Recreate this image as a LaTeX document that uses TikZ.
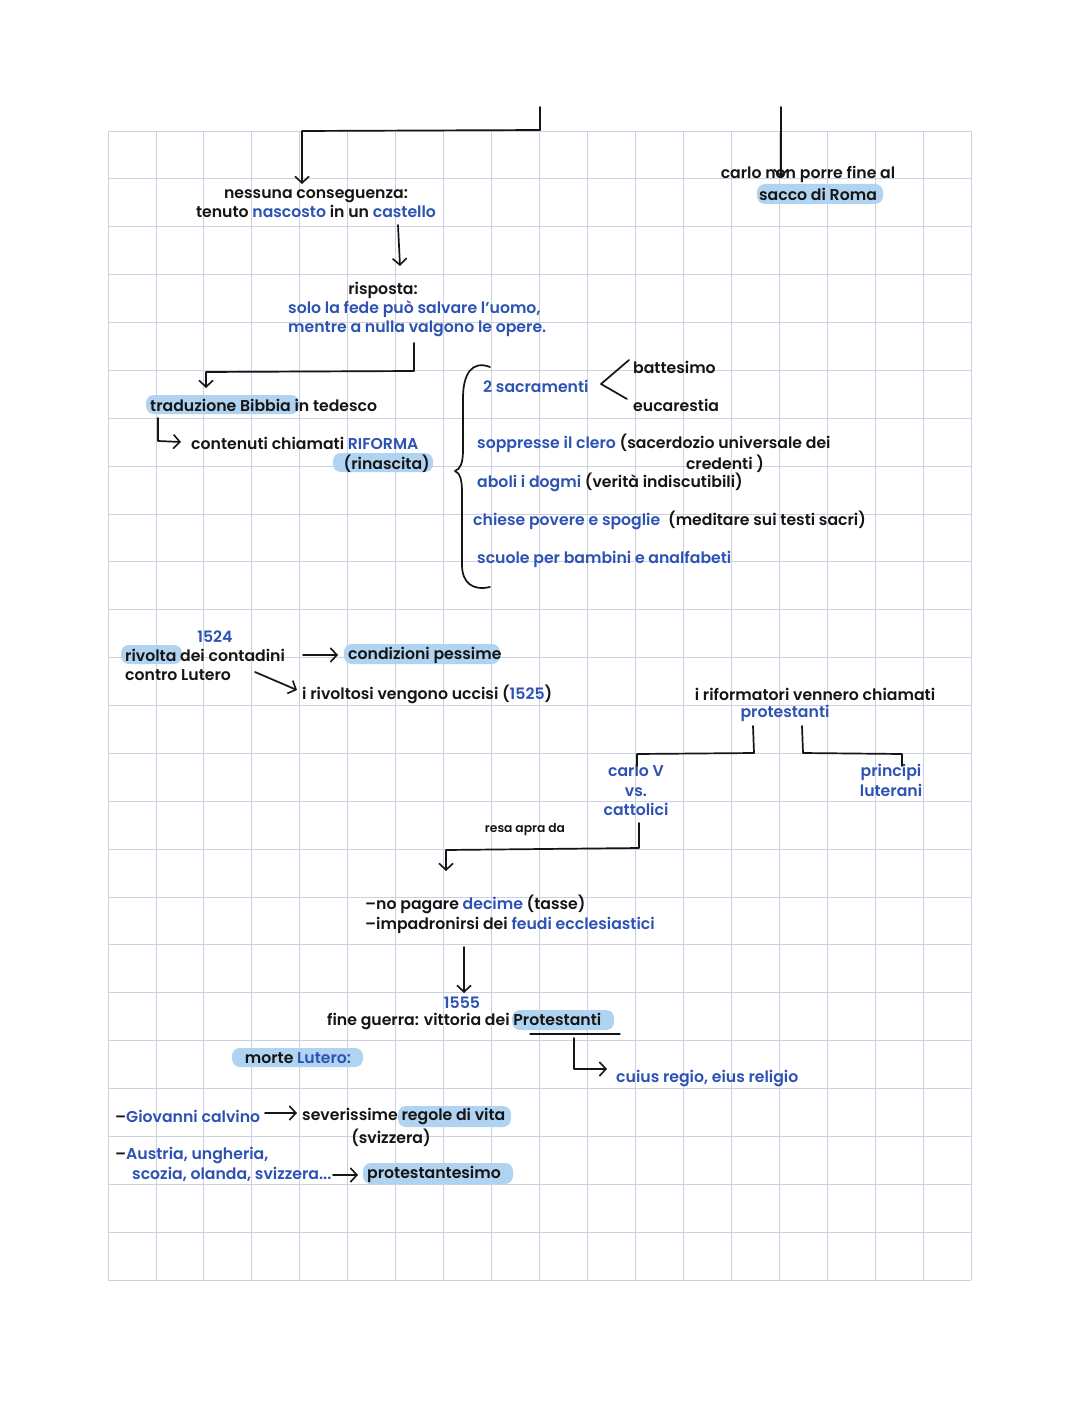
\documentclass[tikz,border=0pt]{standalone}
\usepackage{fontspec}
\IfFontExistsTF{Poppins SemiBold}{\setmainfont{Poppins SemiBold}}{\IfFontExistsTF{Poppins Medium}{\setmainfont{Poppins Medium}}{\setmainfont{Poppins}}}
\usetikzlibrary{arrows.meta}
\definecolor{ink}{HTML}{151515}
\definecolor{blu}{HTML}{2C52B4}
\definecolor{hl}{HTML}{AFD3F0}
\definecolor{gridc}{HTML}{CDD0E0}
\begin{document}
\begin{tikzpicture}[x=1pt,y=-1pt,
 t/.style={inner sep=0pt, font=\fontsize{15.7}{19.5}\selectfont, text=ink, yshift=-1.5pt},
 tw/.style={t, anchor=west},
 tc/.style={t, anchor=center, align=center},
 bl/.style={text=blu},
 small/.style={font=\fontsize{12.3}{14}\selectfont},
 hlbox/.style={fill=hl, rounded corners=8pt, draw=none},
 conn/.style={draw=ink, line width=1.7pt, line cap=round, line join=round},
 arr/.style={conn, -{Straight Barb[length=6.5pt, width=14pt, line width=1.6pt]}},
]
\useasboundingbox (0,0) rectangle (1080,1412);
\fill[white] (0,0) rectangle (1080,1412);
% grid
\foreach \i in {0,...,18} \draw[gridc, line width=0.8pt] ({108+\i*47.94},131) -- ({108+\i*47.94},1280);
\foreach \j in {0,...,24} \draw[gridc, line width=0.8pt] (108,{131+\j*47.875}) -- (971,{131+\j*47.875});

% highlights
\fill[hlbox] (146,395) rectangle (299,414);
\fill[hlbox] (333,453) rectangle (433,472);
\fill[hlbox] (757,184) rectangle (883,204);
\fill[hlbox] (121,645) rectangle (182,664);
\fill[hlbox] (344,644) rectangle (500,664);
\fill[hlbox] (512,1010) rectangle (614,1030);
\fill[hlbox] (232,1048) rectangle (363,1067);
\fill[hlbox] (398,1106) rectangle (511,1127);
\fill[hlbox] (363,1163) rectangle (513,1184);

% ---------- top ----------
\coordinate (topstub) at (540,107);
\coordinate (topc) at (540,130);
\coordinate (topl) at (302,131);
\node[tc] (n1) at (316,202) {nessuna conseguenza:\\tenuto \textcolor{blu}{nascosto} in un \textcolor{blu}{castello}};
\coordinate (n1tip) at (302,184);
\draw[conn] (topstub) -- (topc);
\draw[arr] (topc) -- (topl) -- (n1tip);

\node[tc] (n2a) at (383,289) {risposta:};
\node[tw, bl, align=left] (n2) at (288,317) {solo la fede può salvare l'uomo,\\mentre a nulla valgono le opere.};
\coordinate (a1s) at (398,225);
\coordinate (a1e) at (400,266);
\draw[arr] (a1s) -- (a1e);

\coordinate (b1) at (414,343);
\coordinate (b2) at (414,371);
\coordinate (b3) at (206,372);
\coordinate (b4) at (206,388);
\draw[arr] (b1) -- (b2) -- (b3) -- (b4);

\node[tw] (trad) at (150,404) {traduzione Bibbia in tedesco};
\node[tw] (cont) at (191,442) {contenuti chiamati \textcolor{blu}{RIFORMA}};
\node[t, anchor=east] (rin) at (430,462) {(rinascita)};
\coordinate (e1) at (158,418);
\coordinate (e2) at (158,441);
\coordinate (e3) at (181,442);
\draw[arr] (e1) -- (e2) -- (e3);

% brace
\draw[conn] (490,367) .. controls (472,360) and (463,374) .. (463,398) -- (463,450)
  .. controls (463,464) and (460,469) .. (455,471) .. controls (460,473) and (462,480) .. (462,492)
  -- (462,565) .. controls (462,583) and (473,591) .. (490,587);

\node[tw, bl] (sac) at (483,385) {2 sacramenti};
\node[tw] (batt) at (633,366) {battesimo};
\node[tw] (euc) at (633,404) {eucarestia};
\coordinate (fk) at (601,384);
\coordinate (fku) at (629,360);
\coordinate (fkd) at (627,399);
\draw[conn] (fku) -- (fk) -- (fkd);

\node[tw] (sopp) at (477,442) {\textcolor{blu}{soppresse il clero} (sacerdozio universale dei};
\node[tc] (cred) at (725,462) {credenti )};
\node[tw] (abol) at (477,481) {\textcolor{blu}{aboli i dogmi} (verità indiscutibili)};
\node[tw] (chiese) at (473,519) {\textcolor{blu}{chiese povere e spoglie}\enspace(meditare sui testi sacri)};
\node[tw, bl] (scuole) at (477,558) {scuole per bambini e analfabeti};

% top right
\node[tc] (carlo) at (808,173) {carlo non porre fine al};
\node[tc] (sacco) at (818,193) {sacco di Roma};
\coordinate (cr1) at (781,107);
\coordinate (cr2) at (781,177);
\draw[arr] (cr1) -- (cr2);

% ---------- middle ----------
\node[tc, bl] (y1524) at (215,635) {1524};
\node[tw] (rivolta) at (125,654) {rivolta dei contadini};
\node[tw] (contro) at (125,674) {contro Lutero};
\node[tw] (cond) at (348,654) {condizioni pessime};
\node[tw] (rivoltosi) at (302,693) {i rivoltosi vengono uccisi (\textcolor{blu}{1525})};
\coordinate (ra1) at (303,655);
\coordinate (ra2) at (338,655);
\draw[arr] (ra1) -- (ra2);
\coordinate (rb1) at (255,672);
\coordinate (rb2) at (297,690);
\draw[arr] (rb1) -- (rb2);

\node[tc] (rif) at (815,693) {i riformatori vennero chiamati};
\node[tc, bl] (prot) at (785,712) {protestanti};
\node[tc, bl] (carloV) at (636,789) {carlo V\\vs.\\cattolici};
\node[tc, bl] (princ) at (891,779) {principi\\luterani};
\coordinate (p1) at (753,726);
\coordinate (p2) at (754,753);
\coordinate (p3) at (637,754);
\coordinate (p4) at (637,766);
\draw[conn] (p1) -- (p2) -- (p3) -- (p4);
\coordinate (q1) at (802,726);
\coordinate (q2) at (803,753);
\coordinate (q3) at (902,754);
\coordinate (q4) at (902,766);
\draw[conn] (q1) -- (q2) -- (q3) -- (q4);

\node[tc, small] (resa) at (525,828) {resa apra da};
\coordinate (r1) at (639,823);
\coordinate (r2) at (639,848);
\coordinate (r3) at (446,850);
\coordinate (r4) at (446,871);
\draw[arr] (r1) -- (r2) -- (r3) -- (r4);

\node[tw, align=left] (nopag) at (365,913) {–no pagare \textcolor{blu}{decime} (tasse)\\–impadronirsi dei \textcolor{blu}{feudi ecclesiastici}};
\coordinate (s1) at (464,947);
\coordinate (s2) at (464,993);
\draw[arr] (s1) -- (s2);

\node[tc, bl] (y1555) at (462,1001) {1555};
\node[tw] (fine) at (327,1020) {fine guerra: vittoria dei Protestanti};
\coordinate (u1) at (530,1034);
\coordinate (u2) at (620,1034);
\draw[conn, line width=1.4pt] (u1) -- (u2);
\node[tw, bl] (cuius) at (616,1077) {cuius regio, eius religio};
\coordinate (v1) at (574,1038);
\coordinate (v2) at (574,1069);
\coordinate (v3) at (607,1069);
\draw[arr] (v1) -- (v2) -- (v3);

% ---------- bottom ----------
\node[tc] (morte) at (298,1057) {morte \textcolor{blu}{Lutero:}};
\node[tw] (calv) at (115,1115) {–\textcolor{blu}{Giovanni calvino}};
\node[tw] (sev) at (302,1115) {severissime regole di vita};
\node[tc] (svi) at (391,1136) {(svizzera)};
\coordinate (ca1) at (265,1113);
\coordinate (ca2) at (297,1113);
\draw[arr] (ca1) -- (ca2);
\node[tw] (aus) at (115,1154) {–\textcolor{blu}{Austria, ungheria,}};
\node[tw, bl] (sco) at (132,1173) {scozia, olanda, svizzera...};
\node[tw] (protm) at (367,1173) {protestantesimo};
\coordinate (sa1) at (333,1175);
\coordinate (sa2) at (358,1175);
\draw[arr] (sa1) -- (sa2);
\end{tikzpicture}
\end{document}
